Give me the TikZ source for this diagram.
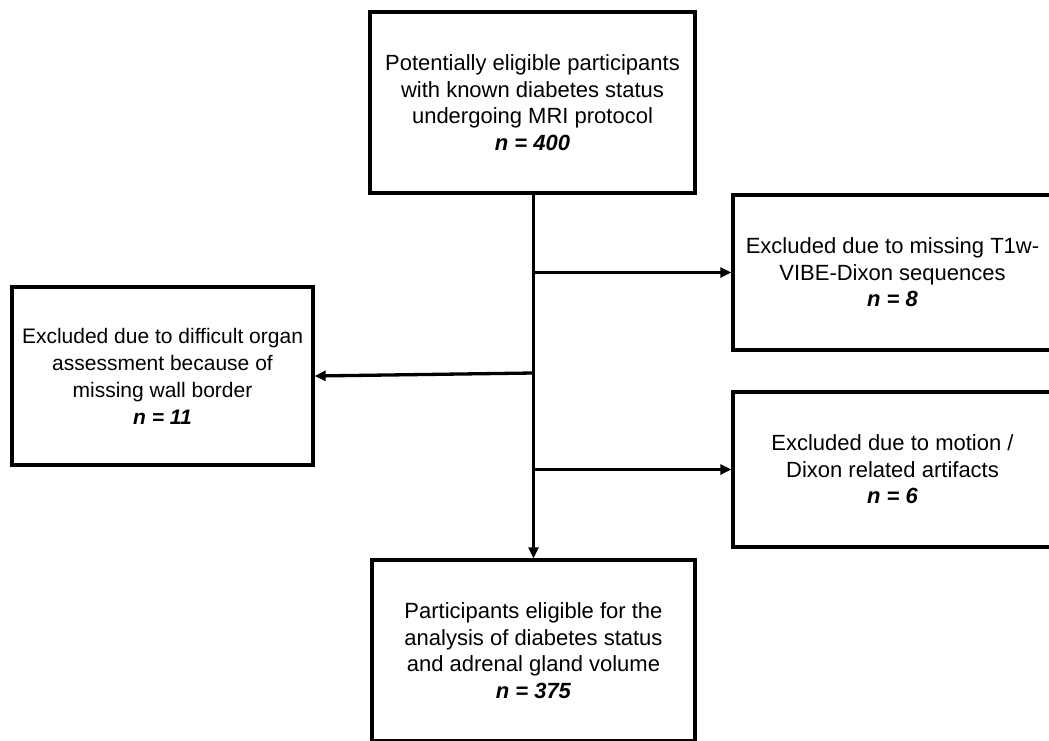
\documentclass[tikz,border=0pt]{standalone}
\usepackage{fontspec}
\setmainfont{Liberation Sans}
\usetikzlibrary{arrows.meta}
\tikzset{
  flowbox/.style={draw=black, line width=3.3pt, rectangle, align=center, inner sep=0pt,
    font=\fontsize{22}{26.5}\selectfont},
  smallbox/.style={flowbox, font=\fontsize{21}{27}\selectfont},
  flowarrow/.style={line width=3.3pt, -{Triangle[length=11pt,width=10pt]}},
}
\newcommand{\nval}[1]{\textbf{\textit{n = #1}}}
\begin{document}
\begin{tikzpicture}[x=1pt,y=-1pt]
\useasboundingbox (0,0) rectangle (1049,740);
\clip (0,0) rectangle (1049,740);
\fill[white] (0,0) rectangle (1049,740);
\node[flowbox, minimum width=325pt, minimum height=181pt] (top) at (532.5,102.5)
  {Potentially eligible participants\\with known diabetes status\\undergoing MRI protocol\\\nval{400}};
\node[flowbox, minimum width=319pt, minimum height=155pt] (r1) at (892.5,272.5)
  {Excluded due to missing T1w-\\VIBE-Dixon sequences\\\nval{8}};
\node[smallbox, minimum width=301pt, minimum height=178pt] (left) at (162.5,376)
  {Excluded due to difficult organ\\assessment because of\\missing wall border\\\nval{11}};
\node[flowbox, minimum width=319pt, minimum height=155pt] (r2) at (892.5,469.5)
  {Excluded due to motion /\\Dixon related artifacts\\\nval{6}};
\node[flowbox, minimum width=323pt, minimum height=181pt] (bot) at (533.5,650.5)
  {Participants eligible for the\\analysis of diabetes status\\and adrenal gland volume\\\nval{375}};
\coordinate (b1) at (533,272.5);
\coordinate (b2) at (533,373);
\coordinate (b3) at (533,469.5);
\draw[flowarrow] (top.south -| bot.north) -- (bot.north);
\draw[flowarrow] (b1) -- (r1.west);
\draw[flowarrow] (b2) -- (left.east);
\draw[flowarrow] (b3) -- (r2.west);
\end{tikzpicture}
\end{document}
